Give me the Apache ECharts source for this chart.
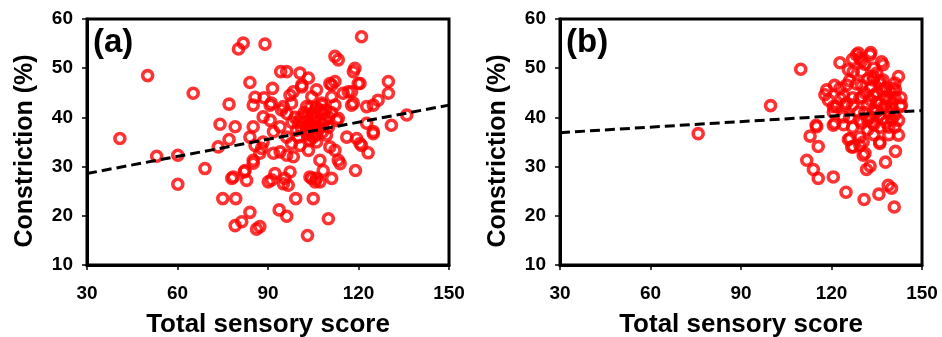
<!DOCTYPE html>
<html>
<head>
<meta charset="utf-8">
<script src="https://cdn.jsdelivr.net/npm/echarts@6/dist/echarts.min.js"></script>
<style>
  html, body { margin: 0; padding: 0; background: #fff; }
  #chart { width: 942px; height: 337px; }
</style>
</head>
<body>
<div id="chart"></div>
<script>
// Panel (a): constriction vs total sensory score, all subjects
const pointsA = [
  [81.8,55.1],[80.2,53.9],[89.0,54.9],[50.1,48.5],[65.2,44.9],[40.9,35.7],[94.2,49.3],[84.0,47.1],
  [85.7,44.1],[85.1,42.5],[77.1,42.7],[91.5,45.9],[91.1,42.9],[74.1,38.6],[79.1,38.1],[77.1,35.5],
  [73.5,34.0],[53.1,32.1],[60.1,32.3],[60.1,26.4],[69.1,29.6],[78.0,27.6],[82.9,27.2],[82.1,28.9],
  [85.1,30.7],[75.0,23.5],[79.3,23.5],[84.0,20.7],[79.1,18.0],[81.3,18.8],[86.2,17.3],[87.3,17.8],
  [90.1,26.9],[91.2,27.3],[93.7,21.2],[119.0,29.2],[110.0,19.4],[103.1,16.0],[99.2,23.5],[105.0,23.5],
  [96.2,19.9],[95.1,26.5],[96.7,26.2],[104.5,27.6],[105.6,26.9],[107.2,26.9],[111.1,27.6],[113.9,30.6],
  [113.3,31.3],[123.2,32.8],[121.0,34.3],[97.3,28.9],[91.8,32.7],[87.9,33.7],[121.0,56.4],[112.2,52.4],
  [113.3,51.7],[118.8,50.0],[118.3,49.3],[129.9,47.3],[129.9,44.9],[119.9,46.9],[112.2,47.3],[111.1,46.6],
  [126.5,43.5],[124.9,42.5],[122.7,42.2],[117.7,42.5],[136.0,40.5],[130.9,38.4],[124.9,36.7],[116.6,45.2],
  [114.9,44.9],[96.2,49.3],[100.6,49.0],[103.4,48.0],[101.2,46.2],[106.1,45.6],[111.1,44.2],[113.3,39.8],
  [97.3,44.5],[90.7,42.5],[95.1,42.2],[107.8,42.9],[98.4,45.2],[101.2,46.6],[110.5,46.9],[120.5,46.9],
  [117.7,45.2],[118.3,42.9],[85.1,38.1],[84.0,36.0],[85.7,34.3],[88.4,35.0],[88.4,40.1],[94.5,41.5],
  [96.2,40.8],[97.8,42.9],[102.8,42.2],[104.5,40.5],[107.2,41.5],[108.3,40.8],[112.2,42.5],[112.8,39.4],
  [108.3,38.8],[106.1,38.1],[102.8,37.4],[99.5,37.4],[94.0,38.1],[90.7,39.4],[91.8,37.1],[96.2,36.0],
  [97.8,34.7],[100.6,34.3],[103.9,35.4],[106.1,35.0],[109.4,36.4],[116.1,36.0],[120.5,34.7],[124.9,37.1],
  [110.5,34.0],[112.2,33.3],[103.4,33.3],[94.0,33.0],[96.2,32.3],[85.1,31.3],[82.4,29.2],[78.5,27.9],
  [92.3,28.6],[95.6,27.6],[103.9,27.9],[106.1,27.6],[108.3,29.2],[87.3,32.7],[98.4,32.0],[107.2,31.3],
  [88.7,44.0],[104.5,44.2],[122.7,38.8],[119.4,35.7],
  [100.0,39.0],[101.0,40.0],[102.0,39.0],[103.0,40.5],[104.0,38.5],[105.0,39.5],[106.0,40.0],[107.0,39.0],
  [105.0,41.0],[108.0,37.0],[104.0,37.0],[101.0,38.0],[99.0,40.0],[103.0,36.5],[106.0,36.5],[109.0,39.5],
  [110.0,38.0],[110.0,40.0],[107.0,37.8],[105.0,38.0],[102.0,41.0],[104.0,42.0],[98.0,39.0],[100.0,36.0],
  [106.0,42.0],[108.0,42.5],[103.0,38.0],[105.0,36.0],[109.0,41.5],[111.0,41.0]
];
const trendA = [[30, 28.6], [150, 42.5]];

// Panel (b): constriction vs total sensory score, second group
const pointsB = [
  [75.8,36.7],[109.8,49.8],[99.8,42.4],[122.8,51.1],[128.9,53.1],[132.8,52.7],[136.6,51.3],[137.1,50.7],
  [142.2,48.3],[127.2,49.3],[130.0,49.3],[118.4,45.6],[117.8,44.6],[122.8,45.9],[125.0,46.6],[128.3,46.8],
  [133.8,47.6],[136.0,46.9],[141.2,45.6],[142.8,42.2],[129.4,43.9],[120.6,42.2],[124.5,42.5],[121.1,38.8],
  [123.9,40.1],[115.1,38.1],[112.9,36.2],[115.6,34.1],[126.1,35.7],[129.4,36.0],[130.5,35.0],[136.0,35.0],
  [142.2,36.4],[129.4,39.4],[130.0,38.8],[111.8,31.3],[114.0,29.4],[115.6,27.6],[120.6,27.9],[124.8,24.8],
  [130.8,23.3],[135.7,24.4],[138.8,26.2],[139.9,25.6],[140.8,21.8],[137.9,30.9],[141.2,33.1],[131.6,29.4],
  [132.8,30.1],[130.5,32.3],[127.2,34.0],[129.4,34.3],[136.0,34.7],[114.9,38.4],[125.6,35.5],[126.7,34.0],
  [131.1,32.7],[133.8,38.8],[125.6,49.7],[139.4,45.2],[140.5,45.9],[121.7,42.2],[120.6,41.1],[125.0,42.9],
  [128.9,41.1],[130.0,44.2],[120.6,38.4],[143.2,42.5],[142.2,39.4],[128.3,52.7],[129.4,52.0],[133.8,48.3],
  [137.1,47.6],
  [131,41],[132,42.5],[133,40],[134,41.5],[135,43],[136,40.5],[137,42],[138,39],[139,41],[140,43],
  [141,40.5],[138,44],[136,38],[134,38.5],[132,39.5],[135,45],[137,45.5],[139,38],[140,41.8],[133,43.5],
  [131,45],[136,42.8],[138,42.2],[134,44.5],[139,43.5],[141,38],[137,39.8],[135,41.2],[132,37.5],[140,39.5],
  [133,46],[136,47.5],[138,46],[134,36.5],[139,36.5],[141,44],
  [131,50.8],[134,50],[132,47.8],[135,49],[127,51.8],[130,51.5],[133,53.2],[126,47.5],[124,44.5],[127,44],
  [126,40],[127,38],[123,43.8],[119,43.5],[121,46.5],[127,42.5],[124,38.5],[130,46.5],[141,47],[143,44]
];
const trendB = [[30, 36.9], [150, 41.4]];

const xTicks = { min: 30, max: 150, interval: 30 };
const yTicks = { min: 10, max: 60, interval: 10 };
const xTitle = 'Total sensory score';
const yTitle = 'Constriction (%)';
const panelTags = ['(a)', '(b)'];

const FONT = '"Liberation Sans", Arial, sans-serif';

function xAxisFor(idx) {
  return {
    gridIndex: idx, type: 'value',
    min: xTicks.min, max: xTicks.max, interval: xTicks.interval,
    name: xTitle, nameLocation: 'middle', nameGap: 47,
    nameTextStyle: { fontFamily: FONT, fontWeight: 'bold', fontSize: 26, color: '#000' },
    axisLine: { show: true, onZero: false, lineStyle: { color: '#000', width: 3 } },
    axisTick: { show: true, inside: false, length: 5, lineStyle: { color: '#000', width: 1.5 } },
    axisLabel: { fontFamily: FONT, fontWeight: 'bold', fontSize: 19, color: '#000', margin: 19 },
    splitLine: { show: false }
  };
}
function yAxisFor(idx) {
  return {
    gridIndex: idx, type: 'value',
    min: yTicks.min, max: yTicks.max, interval: yTicks.interval,
    name: yTitle, nameLocation: 'middle', nameGap: 49, nameRotate: 90,
    // right padding nudges the rotated title a little below the plot centre
    nameTextStyle: { fontFamily: FONT, fontWeight: 'bold', fontSize: 25, color: '#000', padding: [0, 18, 0, 0] },
    axisLine: { show: true, onZero: false, lineStyle: { color: '#000', width: 3 } },
    axisTick: { show: true, inside: false, length: 5, lineStyle: { color: '#000', width: 1.5 } },
    axisLabel: { fontFamily: FONT, fontWeight: 'bold', fontSize: 19, color: '#000', margin: 14 },
    splitLine: { show: false }
  };
}
function scatterFor(idx, data) {
  return {
    type: 'scatter', xAxisIndex: idx, yAxisIndex: idx, data: data,
    symbol: 'circle', symbolSize: 10,
    itemStyle: { color: 'rgba(255,255,255,0)', borderColor: '#ff0000', borderWidth: 3.6 },
    emphasis: { disabled: true }, z: 3
  };
}
function trendFor(idx, data) {
  return {
    type: 'line', xAxisIndex: idx, yAxisIndex: idx, data: data,
    symbol: 'none', silent: true,
    lineStyle: { color: '#000', width: 3, type: [10, 5] }, z: 4
  };
}

// fixed plot rectangles; outerBoundsMode 'none' keeps them from shrinking to fit titles
const gridBase = { top: 19, bottom: 72, show: true, borderColor: '#000', borderWidth: 3,
  backgroundColor: 'transparent', containLabel: false, outerBoundsMode: 'none' };

const chart = echarts.init(document.getElementById('chart'), null, { renderer: 'canvas' });
chart.setOption({
  animation: false,
  backgroundColor: '#fff',
  grid: [
    Object.assign({ left: 87, right: 493 }, gridBase),
    Object.assign({ left: 560, right: 20 }, gridBase)
  ],
  xAxis: [xAxisFor(0), xAxisFor(1)],
  yAxis: [yAxisFor(0), yAxisFor(1)],
  graphic: [
    { type: 'text', left: 93, top: 26, z: 10, style: { text: panelTags[0], font: 'bold 33px ' + FONT, fill: '#000' } },
    { type: 'text', left: 566, top: 26, z: 10, style: { text: panelTags[1], font: 'bold 33px ' + FONT, fill: '#000' } }
  ],
  series: [
    scatterFor(0, pointsA), trendFor(0, trendA),
    scatterFor(1, pointsB), trendFor(1, trendB)
  ]
});
</script>
</body>
</html>
